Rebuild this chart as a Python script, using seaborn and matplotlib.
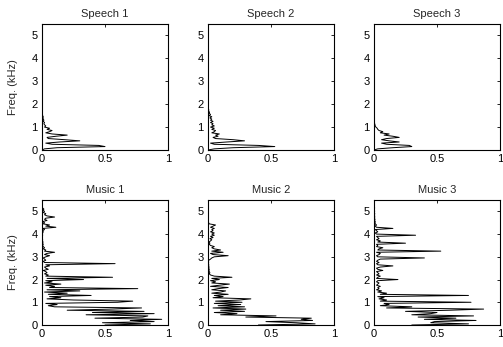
import numpy as np
import pandas as pd
import matplotlib
matplotlib.use("Agg")
import matplotlib.pyplot as plt
import seaborn as sns

# ---- data -------------------------------------------------------------
titles = ["Speech 1", "Speech 2", "Speech 3", "Music 1", "Music 2", "Music 3"]
freq_step_khz = 0.05          # spectrum sampled every 50 Hz, 0 .. 5.5 kHz
x_ticks = [0, 0.5, 1]
x_tick_labels = ["0", "0.5", "1"]
y_ticks = [0, 1, 2, 3, 4, 5]

speech1 = [0.00, 0.02, 0.12, 0.50, 0.45, 0.08, 0.03, 0.14, 0.30, 0.18,
           0.05, 0.04, 0.11, 0.20, 0.08, 0.03, 0.06, 0.08, 0.04, 0.06,
           0.02, 0.03, 0.02, 0.015, 0.02, 0.01, 0.015, 0.01, 0.008, 0.01,
           0.005, 0.004, 0.003, 0.003, 0.002, 0.002, 0.002, 0.001, 0.001, 0.001,
           0.001] + [0.001] * 70

speech2 = [0.00, 0.05, 0.20, 0.53, 0.40, 0.05, 0.02, 0.15, 0.29, 0.20,
           0.06, 0.04, 0.08, 0.06, 0.09, 0.03, 0.05, 0.06, 0.03, 0.05,
           0.02, 0.05, 0.03, 0.04, 0.02, 0.04, 0.02, 0.03, 0.015, 0.03,
           0.01, 0.02, 0.01, 0.012, 0.005, 0.006, 0.004, 0.003, 0.002, 0.002,
           0.001] + [0.001] * 70

speech3 = [0.00, 0.03, 0.15, 0.30, 0.28, 0.10, 0.06, 0.20, 0.12, 0.06,
           0.10, 0.20, 0.15, 0.08, 0.12, 0.05, 0.07, 0.04, 0.03, 0.025,
           0.015, 0.01, 0.008, 0.005, 0.004, 0.003, 0.002, 0.002, 0.001, 0.001,
           0.001] + [0.001] * 80

music1 = [0.50, 0.86, 0.48, 0.89, 0.70, 0.95, 0.42, 0.80, 0.84, 0.35,
          0.89, 0.40, 0.81, 0.20, 0.55, 0.79, 0.10, 0.05, 0.12, 0.03,
          0.60, 0.72, 0.25, 0.04, 0.15, 0.06, 0.39, 0.05, 0.20, 0.02,
          0.30, 0.04, 0.76, 0.06, 0.10, 0.03, 0.15, 0.02, 0.08, 0.03,
          0.33, 0.04, 0.56, 0.03, 0.05, 0.02, 0.04, 0.03, 0.01, 0.05,
          0.03, 0.02, 0.06, 0.03, 0.58, 0.02, 0.01, 0.03, 0.02, 0.01,
          0.03, 0.06, 0.02, 0.04, 0.10, 0.02, 0.03, 0.01, 0.02, 0.01,
          0.005, 0.01, 0.005, 0.008, 0.004, 0.005, 0.003, 0.004, 0.003, 0.005,
          0.004, 0.005, 0.01, 0.005, 0.02, 0.008, 0.11, 0.03, 0.06, 0.01,
          0.02, 0.005, 0.04, 0.02, 0.03, 0.10, 0.04, 0.02, 0.03, 0.01,
          0.02, 0.008, 0.015, 0.005, 0.003, 0.002, 0.002, 0.001, 0.001, 0.001,
          0.001]

music2 = [0.40, 0.85, 0.70, 0.46, 0.83, 0.74, 0.82, 0.30, 0.54, 0.10,
          0.23, 0.05, 0.29, 0.10, 0.30, 0.04, 0.29, 0.08, 0.26, 0.05,
          0.27, 0.06, 0.25, 0.34, 0.04, 0.12, 0.05, 0.16, 0.03, 0.10,
          0.14, 0.03, 0.08, 0.16, 0.02, 0.09, 0.17, 0.03, 0.06, 0.02,
          0.09, 0.03, 0.19, 0.05, 0.02, 0.01, 0.015, 0.01, 0.008, 0.01,
          0.006, 0.008, 0.005, 0.006, 0.004, 0.005, 0.004, 0.006, 0.02, 0.03,
          0.05, 0.16, 0.04, 0.02, 0.12, 0.03, 0.10, 0.05, 0.03, 0.05,
          0.02, 0.01, 0.015, 0.008, 0.02, 0.03, 0.015, 0.04, 0.02, 0.05,
          0.03, 0.05, 0.02, 0.04, 0.03, 0.05, 0.02, 0.04, 0.06, 0.01,
          0.005, 0.003, 0.002, 0.002, 0.001, 0.001, 0.001, 0.001, 0.001, 0.001,
          0.001, 0.001, 0.001, 0.001, 0.001, 0.001, 0.001, 0.001, 0.001, 0.001,
          0.001]

music3 = [0.30, 0.75, 0.45, 0.48, 0.81, 0.40, 0.65, 0.35, 0.79, 0.30,
          0.45, 0.50, 0.25, 0.60, 0.87, 0.10, 0.30, 0.05, 0.12, 0.08,
          0.77, 0.05, 0.10, 0.04, 0.08, 0.03, 0.75, 0.05, 0.10, 0.03,
          0.06, 0.02, 0.04, 0.03, 0.05, 0.02, 0.03, 0.04, 0.02, 0.03,
          0.19, 0.02, 0.03, 0.05, 0.02, 0.04, 0.03, 0.02, 0.07, 0.03,
          0.02, 0.05, 0.15, 0.03, 0.02, 0.04, 0.02, 0.03, 0.05, 0.40,
          0.03, 0.02, 0.04, 0.05, 0.02, 0.53, 0.03, 0.04, 0.07, 0.02,
          0.03, 0.02, 0.25, 0.03, 0.05, 0.02, 0.04, 0.03, 0.02, 0.33,
          0.02, 0.01, 0.03, 0.02, 0.01, 0.15, 0.02, 0.01, 0.02, 0.01,
          0.008, 0.01, 0.005, 0.008, 0.004, 0.006, 0.005, 0.004, 0.006, 0.003,
          0.005, 0.004, 0.003, 0.005, 0.003, 0.004, 0.002, 0.003, 0.002, 0.002,
          0.002]

series = [speech1, speech2, speech3, music1, music2, music3]

# ---- style ------------------------------------------------------------
sns.set_style("white")
plt.rcParams['font.family'] = ['Liberation Sans', 'DejaVu Sans']

W, H = 503, 347
fig = plt.figure(figsize=(W / 100, H / 100), dpi=100)

col_left_px = [42, 208, 374]
ax_w_px = 126
rows_px = [(24, 150), (200, 325)]   # (top, bottom) in pixels

for i, (name, vals) in enumerate(zip(titles, series)):
    r, c = divmod(i, 3)
    top, bot = rows_px[r]
    ax = fig.add_axes([col_left_px[c] / W, (H - bot) / H,
                       ax_w_px / W, (bot - top) / H])
    freq = np.arange(len(vals)) * freq_step_khz
    df = pd.DataFrame({"mag": vals, "freq": freq})
    sns.lineplot(data=df, x="mag", y="freq", sort=False, estimator=None,
                 color="black", linewidth=0.7, ax=ax)
    ax.set_xlim(0, 1)
    ax.set_ylim(0, 5.5)
    ax.set_xticks(x_ticks)
    ax.set_xticklabels(x_tick_labels)
    ax.set_yticks(y_ticks)
    ax.tick_params(direction="in", top=True, right=True, length=2.5,
                   width=0.6, labelsize=8, pad=3, colors="black")
    for s in ax.spines.values():
        s.set_color("black")
        s.set_linewidth(0.8)
    ax.set_title(name, fontsize=8, pad=5)
    ax.set_xlabel("")
    ax.set_ylabel("Freq. (kHz)" if c == 0 else "", fontsize=8, labelpad=10)

fig.savefig("out.png", dpi=100)
